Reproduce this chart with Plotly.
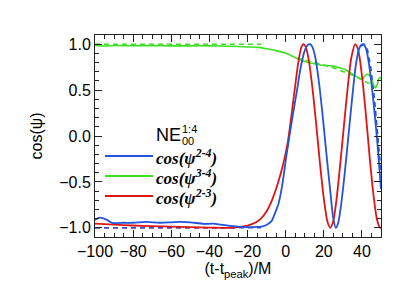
import plotly.graph_objects as go

# ---- data ----
t_red = [-100, -90, -80, -70, -60, -50, -40, -30, -25, -20, -16, -13, -10, -7, -4, -1, 1, 3, 5, 7, 8.3, 9.3,
         10.5, 12, 14, 16, 18, 20, 22, 23.4, 24.8, 26.5, 28.5, 30.5, 32.5, 34.5, 36.5, 38, 40, 42, 44, 46, 48, 49.6, 50]
cos_23 = [-0.955, -0.965, -0.975, -0.982, -0.988, -0.993, -0.997, -1.0, -0.993, -0.975, -0.945, -0.90, -0.82, -0.69,
          -0.51, -0.28, -0.08, 0.22, 0.55, 0.85, 0.97, 1.0,
          0.97, 0.84, 0.53, 0.13, -0.30, -0.68, -0.94, -1.0, -0.94, -0.72, -0.33, 0.10, 0.52, 0.86, 1.0, 0.94, 0.66,
          0.25, -0.22, -0.63, -0.92, -1.0, -1.0]

t_blue = [-100, -97.5, -94, -91, -85, -80, -73, -66, -60, -55, -50, -43, -38, -34, -30, -25, -20, -15, -12, -9.5,
          -7.5, -5.6, -3.8, -2, 0.5, 3.2, 5.8, 8, 10, 11.5, 12.8, 14, 15.5, 17.5, 19.5, 21.5, 23.5, 25, 26.3, 27.5,
          29, 31, 33, 35, 37, 38.7, 40.4, 42, 44, 46, 48, 50]
cos_24 = [-0.915, -0.89, -0.91, -0.945, -0.945, -0.945, -0.935, -0.945, -0.94, -0.935, -0.94, -0.957, -0.955,
          -0.965, -0.975, -0.988, -0.992, -0.99, -0.985, -0.96,
          -0.93, -0.84, -0.74, -0.56, -0.2, 0.16, 0.48, 0.76, 0.93, 0.99, 1.0, 0.97, 0.86, 0.58, 0.20, -0.22, -0.62,
          -0.90, -1.0, -0.95,
          -0.76, -0.40, 0.02, 0.44, 0.80, 0.96, 1.0, 0.96, 0.74, 0.38, -0.05, -0.58]

t_green = [-100, -95, -90, -80, -70, -60, -50, -40, -30, -20, -14, -10, -5, 0, 3, 6.7, 12, 19, 24, 27.7, 31, 33.9,
           36.5, 38.5, 40, 41, 42.6, 44, 45, 46, 47, 48, 48.8, 50]
cos_34 = [0.985, 0.98, 0.985, 0.983, 0.985, 0.982, 0.982, 0.982, 0.978, 0.97, 0.965, 0.95, 0.93, 0.90, 0.875,
          0.836, 0.80, 0.771, 0.764, 0.746, 0.725, 0.69,
          0.655, 0.63, 0.618, 0.64, 0.673, 0.66, 0.62, 0.56, 0.527, 0.56, 0.618, 0.64]

# dashed reference curves
t_blue_d = [-100, -13]
cos_24_d = [-1.0, -1.0]
t_blue_d2 = [39.5, 41.1, 42.7, 44.7, 46.7, 48.7, 50]
cos_24_d2 = [0.98, 1.0, 0.96, 0.74, 0.38, -0.05, -0.40]
t_red_d = [-100, -25]
cos_23_d = [-1.0, -1.0]
t_green_d = [-100, -13]
cos_34_d = [1.0, 1.0]
t_green_d2 = [6, 12, 18, 24, 30, 36, 40, 44]
cos_34_d2 = [0.85, 0.82, 0.785, 0.75, 0.705, 0.655, 0.61, 0.57]

labels = ["cos(ψ<sup>2-4</sup>)", "cos(ψ<sup>3-4</sup>)", "cos(ψ<sup>2-3</sup>)"]
BLUE, GREEN, RED = "#2352dc", "#3ee024", "#e01414"

fig = go.Figure()
for tx, yy, c in [(t_red_d, cos_23_d, RED), (t_blue_d, cos_24_d, BLUE), (t_green_d, cos_34_d, GREEN),
                  (t_green_d2, cos_34_d2, GREEN), (t_blue_d2, cos_24_d2, BLUE)]:
    fig.add_trace(go.Scatter(x=tx, y=yy, mode="lines", line=dict(color=c, width=1.6, dash="5px,4px"),
                             showlegend=False, hoverinfo="skip"))
fig.add_trace(go.Scatter(x=t_green, y=cos_34, mode="lines", line=dict(color=GREEN, width=1.6, shape="spline", smoothing=0.6),
                         name=labels[1], showlegend=False))
fig.add_trace(go.Scatter(x=t_red, y=cos_23, mode="lines", line=dict(color=RED, width=1.8, shape="spline", smoothing=0.8),
                         name=labels[2], showlegend=False))
fig.add_trace(go.Scatter(x=t_blue, y=cos_24, mode="lines", line=dict(color=BLUE, width=1.8, shape="spline", smoothing=0.8),
                         name=labels[0], showlegend=False))

L, R, T, B = 87, 26, 27, 56
W, H = 399, 285
pw, ph = W - L - R, H - T - B
def px(x): return (x - L) / pw
def py(y): return (H - B - y) / ph

axis_common = dict(showline=True, linecolor="#222", linewidth=1, mirror="allticks", ticks="inside",
                   ticklen=7, tickcolor="#222", showgrid=False, zeroline=False,
                   tickfont=dict(family="Liberation Sans, Arial", size=16, color="black"))
fig.update_xaxes(range=[-100, 50], tick0=-100, dtick=20, **axis_common,
                 minor=dict(dtick=5, ticks="inside", ticklen=4, tickcolor="#222"),
                 title=dict(text="(t-t<sub>peak</sub>)/M", font=dict(family="Liberation Sans, Arial", size=16, color="black"),
                            standoff=3))
fig.update_yaxes(range=[-1.1, 1.1], tick0=-1, dtick=0.5, tickformat=".1f", **axis_common,
                 minor=dict(dtick=0.1, ticks="inside", ticklen=4, tickcolor="#222"),
                 title=dict(text="cos(ψ)", font=dict(family="Liberation Sans, Arial", size=16, color="black"),
                            standoff=12))

# legend drawn in the plot area
shapes = []
ann = []
for lab, c, yy in zip(labels, [BLUE, GREEN, RED], [148, 168, 188]):
    shapes.append(dict(type="line", xref="paper", yref="paper", x0=px(97), x1=px(145), y0=py(yy), y1=py(yy),
                       line=dict(color=c, width=1.8)))
    ann.append(dict(xref="paper", yref="paper", x=px(146), y=py(yy + 1), xanchor="left", yanchor="middle",
                    text="<b><i>" + lab + "</i></b>", showarrow=False,
                    font=dict(family="Liberation Serif, Times New Roman", size=17, color="black")))
ann.append(dict(xref="paper", yref="paper", x=px(146), y=py(127), xanchor="left", yanchor="middle",
                text="NE", showarrow=False, font=dict(family="Liberation Sans, Arial", size=18, color="black")))
ann.append(dict(xref="paper", yref="paper", x=px(172), y=py(121), xanchor="left", yanchor="middle",
                text="1:4", showarrow=False, font=dict(family="Liberation Sans, Arial", size=11, color="black")))
ann.append(dict(xref="paper", yref="paper", x=px(172), y=py(132.5), xanchor="left", yanchor="middle",
                text="00", showarrow=False, font=dict(family="Liberation Sans, Arial", size=11, color="black")))

fig.update_layout(width=W, height=H, margin=dict(l=L, r=R, t=T, b=B, pad=0),
                  plot_bgcolor="white", paper_bgcolor="white", showlegend=False,
                  shapes=shapes, annotations=ann)
fig.write_html("out.html")
